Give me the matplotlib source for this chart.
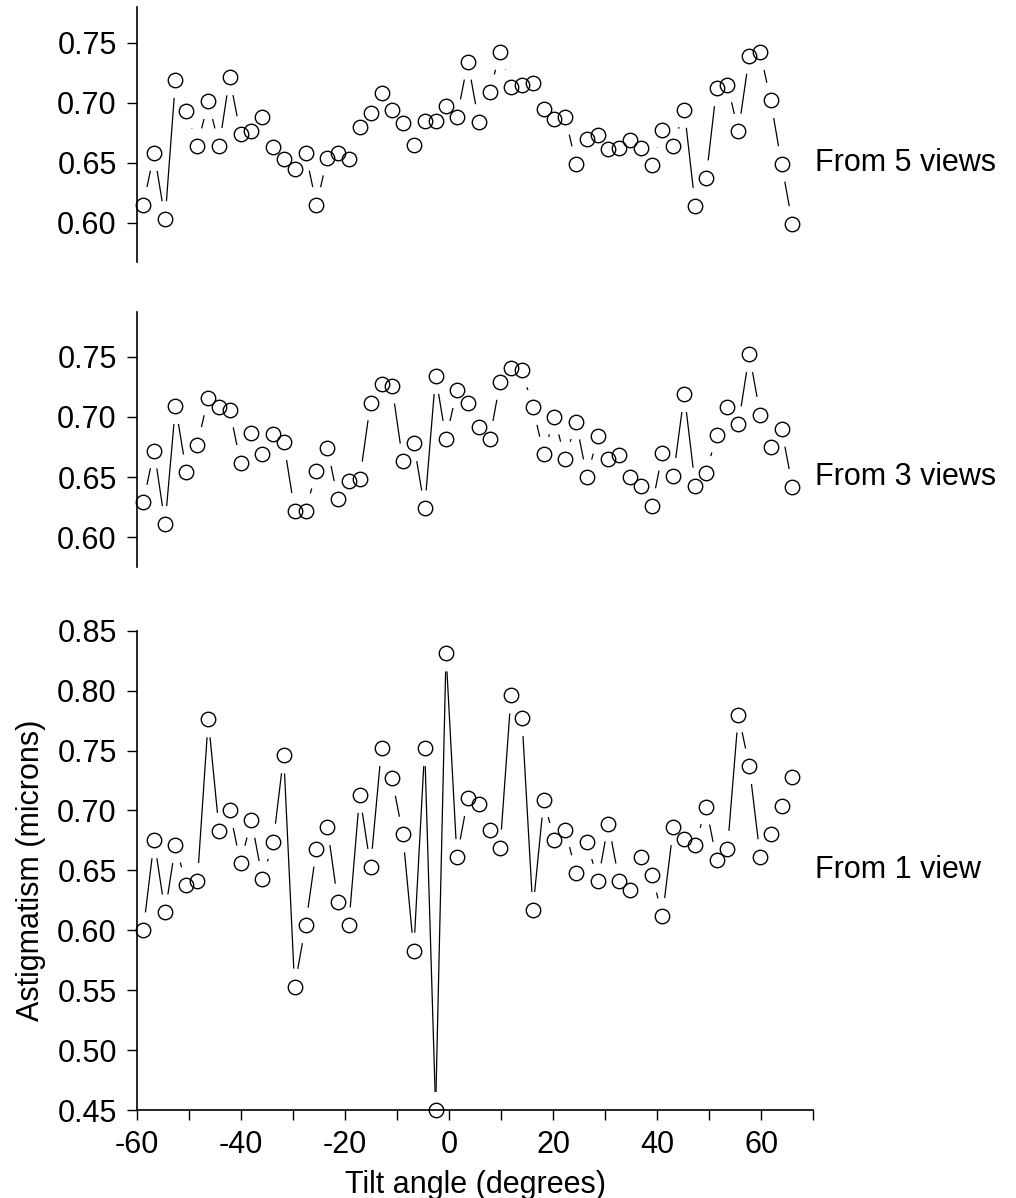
import numpy as np
import matplotlib
matplotlib.use("Agg")
import matplotlib.pyplot as plt
from matplotlib.collections import LineCollection

plt.rcParams["font.family"] = ["Liberation Sans", "DejaVu Sans"]

# tilt angles (degrees)
tilt = [-58.8, -56.7, -54.6, -52.6, -50.5, -48.4, -46.3, -44.2, -42.2, -40.1,
        -38.0, -35.9, -33.8, -31.8, -29.7, -27.6, -25.5, -23.4, -21.4, -19.3,
        -17.2, -15.1, -13.0, -11.0, -8.9, -6.8, -4.7, -2.6, -0.6, 1.5,
        3.6, 5.7, 7.8, 9.8, 11.9, 14.0, 16.1, 18.2, 20.2, 22.3,
        24.4, 26.5, 28.6, 30.6, 32.7, 34.8, 36.9, 39.0, 41.0, 43.1,
        45.2, 47.3, 49.4, 51.4, 53.5, 55.6, 57.7, 59.8, 61.8, 63.9, 66.0]

five_views = [0.615, 0.658, 0.603, 0.719, 0.693, 0.664, 0.701, 0.664, 0.721, 0.674,
              0.676, 0.688, 0.663, 0.653, 0.645, 0.658, 0.615, 0.654, 0.658, 0.653,
              0.680, 0.691, 0.708, 0.694, 0.683, 0.665, 0.685, 0.685, 0.697, 0.688,
              0.734, 0.684, 0.709, 0.742, 0.713, 0.715, 0.716, 0.695, 0.686, 0.688,
              0.649, 0.670, 0.673, 0.661, 0.662, 0.669, 0.662, 0.648, 0.677, 0.664,
              0.694, 0.614, 0.637, 0.712, 0.715, 0.676, 0.739, 0.742, 0.702, 0.649, 0.599]

three_views = [0.629, 0.672, 0.611, 0.709, 0.654, 0.677, 0.716, 0.708, 0.706, 0.662,
               0.687, 0.669, 0.686, 0.679, 0.622, 0.622, 0.655, 0.674, 0.632, 0.647,
               0.648, 0.712, 0.727, 0.726, 0.663, 0.678, 0.624, 0.734, 0.682, 0.722,
               0.712, 0.692, 0.682, 0.729, 0.741, 0.739, 0.708, 0.669, 0.700, 0.665,
               0.696, 0.650, 0.684, 0.665, 0.668, 0.650, 0.643, 0.626, 0.670, 0.651,
               0.719, 0.643, 0.653, 0.685, 0.708, 0.694, 0.752, 0.702, 0.675, 0.690, 0.642]

one_view = [0.600, 0.675, 0.615, 0.671, 0.638, 0.641, 0.776, 0.683, 0.700, 0.656,
            0.692, 0.643, 0.674, 0.746, 0.553, 0.604, 0.668, 0.686, 0.624, 0.604,
            0.713, 0.653, 0.752, 0.727, 0.680, 0.583, 0.752, 0.450, 0.831, 0.661,
            0.710, 0.705, 0.684, 0.669, 0.796, 0.777, 0.617, 0.709, 0.675, 0.684,
            0.648, 0.674, 0.641, 0.689, 0.641, 0.634, 0.661, 0.646, 0.612, 0.686,
            0.676, 0.671, 0.703, 0.659, 0.668, 0.780, 0.737, 0.661, 0.680, 0.704, 0.728]

fs = 22
W, H = 1016, 1198
fig = plt.figure(figsize=(W / 100, H / 100), dpi=100)


def px_axes(x0, x1, y0, y1):
    # axes box given in pixel coordinates of the final image
    return fig.add_axes([x0 / W, 1 - y1 / H, (x1 - x0) / W, (y1 - y0) / H])


def gapped_lines(ax, x, y, gap=18):
    # R style type="b": segments stop short of the points
    pts = ax.transData.transform(np.column_stack([x, y]))
    inv = ax.transData.inverted()
    segs = []
    for p0, p1 in zip(pts[:-1], pts[1:]):
        d = p1 - p0
        L = np.hypot(d[0], d[1])
        if L <= 2 * gap:
            continue
        u = d / L
        segs.append([inv.transform(p0 + u * gap), inv.transform(p1 - u * gap)])
    ax.add_collection(LineCollection(segs, colors="black", linewidths=0.9))


panels = [
    (five_views, "From 5 views", (6.7, 261.7), (0.5675, 0.78), [0.60, 0.65, 0.70, 0.75]),
    (three_views, "From 3 views", (311.7, 566.7), (0.5755, 0.7875), [0.60, 0.65, 0.70, 0.75]),
    (one_view, "From 1 view", (630.7, 1110), (0.45, 0.85),
     [0.45, 0.50, 0.55, 0.60, 0.65, 0.70, 0.75, 0.80, 0.85]),
]

for i, (vals, label, (ytop, ybot), ylim, yticks) in enumerate(panels):
    ax = px_axes(137, 813.3, ytop, ybot)
    ax.set_xlim(-60, 70)
    ax.set_ylim(*ylim)
    for s in ["top", "right"]:
        ax.spines[s].set_visible(False)
    ax.spines["left"].set_linewidth(1.2)
    ax.set_yticks(yticks)
    ax.set_yticklabels(["{:.2f}".format(t) for t in yticks], fontsize=fs)
    ax.tick_params(axis="both", direction="out", length=7.5, width=1.0, pad=7)
    if i < 2:
        ax.spines["bottom"].set_visible(False)
        ax.set_xticks([])
    else:
        ax.spines["bottom"].set_linewidth(1.2)
        xt = list(range(-60, 71, 10))
        ax.set_xticks(xt)
        ax.set_xticklabels([str(t) if t % 20 == 0 and t < 70 else "" for t in xt],
                           fontsize=fs)
        ax.set_xlabel("Tilt angle (degrees)", fontsize=fs, labelpad=7)
        ax.set_ylabel("Astigmatism (microns)", fontsize=fs, labelpad=8)
    gapped_lines(ax, tilt, vals)
    ax.plot(tilt, vals, ls="none", marker="o", ms=10.4, mfc="none",
            mec="black", mew=1.0, clip_on=False, zorder=5)
    ax.text(1.003, 0.65, label, transform=ax.get_yaxis_transform(),
            ha="left", va="center", fontsize=fs)

fig.savefig("out.png", dpi=100)
